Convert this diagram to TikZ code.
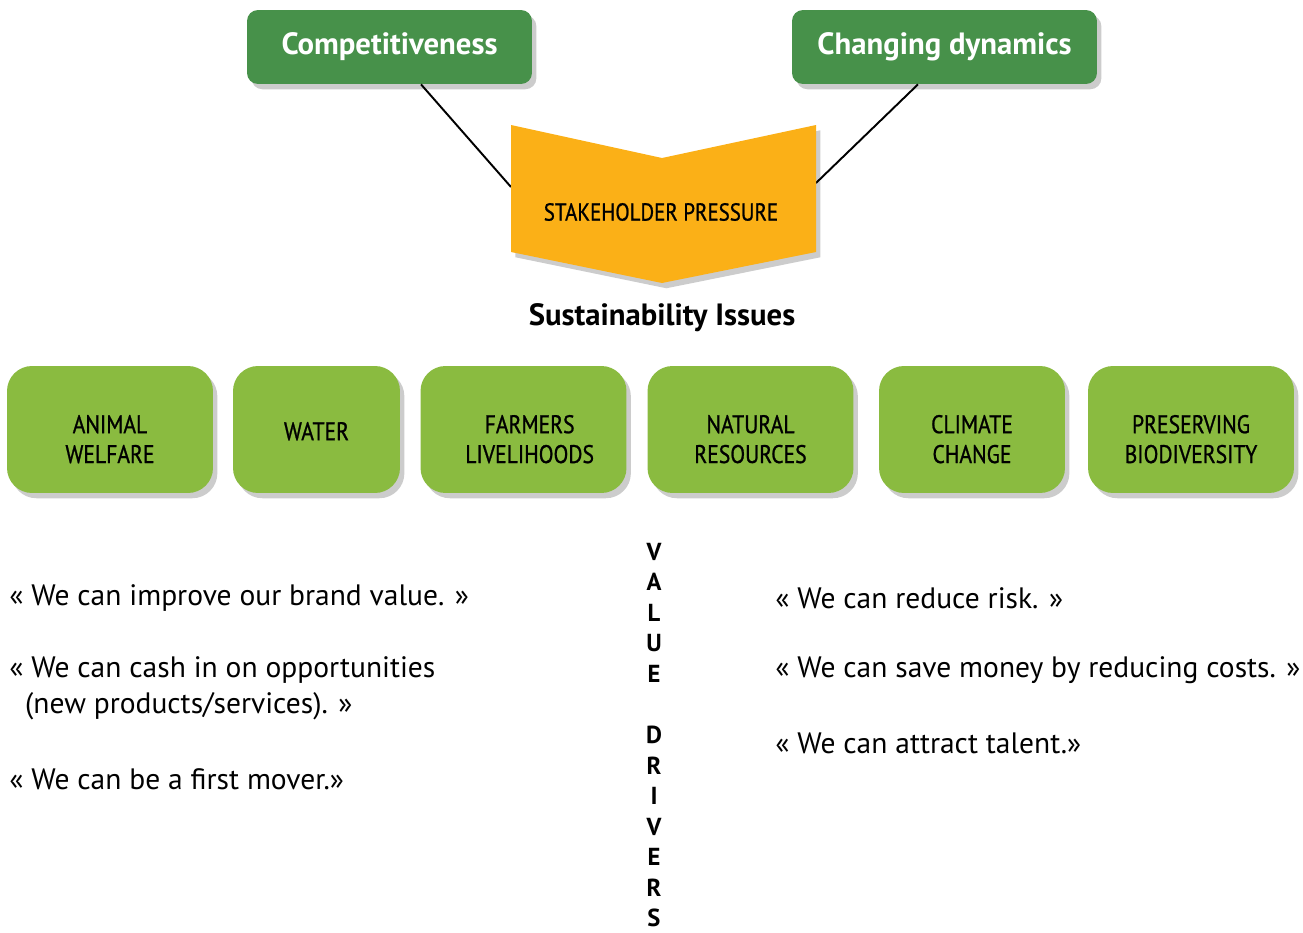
\documentclass[tikz,border=0pt]{standalone}
\usepackage{fontspec}
\setmainfont{PT Sans}
\newfontfamily\condsans{PT Sans}[FakeStretch=0.85, FakeBold=0.9]
\usetikzlibrary{shadows,calc}
\definecolor{pressure}{RGB}{251,176,23}
\definecolor{driver}{RGB}{71,145,74}
\definecolor{issue}{RGB}{138,187,64}
\tikzstyle{boxshadow}=[drop shadow={shadow xshift=2.5pt, shadow yshift=-3pt, opacity=0.2, fill=black}]
\tikzstyle{driverbox}=[fill=driver, rounded corners=0.22cm, minimum height=1.48cm, text=white, font=\bfseries\fontsize{17.5}{20}\selectfont, boxshadow]
\tikzstyle{issuebox}=[fill=issue, rounded corners=0.5cm, minimum height=2.54cm, boxshadow]
\tikzstyle{issuelabel}=[align=center, yshift=-5.5pt, font=\condsans\fontsize{14.5}{17}\selectfont]
\tikzstyle{connector}=[line width=1.1pt]
\tikzstyle{quote}=[anchor=west, inner sep=0pt, align=left, font=\fontsize{16.8}{20.4}\selectfont]

\begin{document}
\begin{tikzpicture}[x=0.02cm, y=-0.02cm]
    \useasboundingbox (0,0) rectangle (1303,933);

    \node[driverbox, minimum width=5.7cm] (comp) at (389.5,47) {Competitiveness};
    \node[driverbox, minimum width=6.1cm] (dyn) at (944.5,47) {Changing dynamics};

    \coordinate (chevL) at (511,187);
    \coordinate (chevR) at (816,183);
    \draw[connector] ($(comp.south)+(31.5,0)$) -- (chevL);
    \draw[connector] ($(dyn.south)+(-26.5,0)$) -- (chevR);

    \fill[pressure, boxshadow] (511,125) -- (662,158) -- (816,125) -- (816,252) -- (662,283) -- (511,252) -- cycle;
    \node[font=\condsans\fontsize{14}{17}\selectfont] (stake) at (661,212) {STAKEHOLDER PRESSURE};

    \node[font=\bfseries\fontsize{17.5}{20}\selectfont] (issues) at (662,318) {Sustainability Issues};

    \node[issuebox, minimum width=4.12cm, label={[issuelabel]center:ANIMAL\\WELFARE}] (animal) at (110,429.5) {};
    \node[issuebox, minimum width=3.34cm, label={[issuelabel, yshift=4.5pt]center:WATER}] (water) at (316.5,429.5) {};
    \node[issuebox, minimum width=4.12cm, label={[issuelabel, xshift=3.5pt]center:FARMERS\\LIVELIHOODS}] (farmers) at (523.5,429.5) {};
    \node[issuebox, minimum width=4.12cm, label={[issuelabel]center:NATURAL\\RESOURCES}] (natural) at (750.5,429.5) {};
    \node[issuebox, minimum width=3.72cm, label={[issuelabel]center:CLIMATE\\CHANGE}] (climate) at (972,429.5) {};
    \node[issuebox, minimum width=4.12cm, label={[issuelabel]center:PRESERVING\\BIODIVERSITY}] (biodiv) at (1191,429.5) {};

    \node[align=center, inner sep=0pt, font=\bfseries\fontsize{14}{17.4}\selectfont] (drivers) at (654,735)
        {V\\A\\L\\U\\E\\[17.4pt]D\\R\\I\\V\\E\\R\\S};

    \node[quote] (brand) at (9,598) {« We can improve our brand value. »};
    \node[quote] (cash) at (9,688) {« We can cash in on opportunities\\\hspace*{9pt}(new products/services). »};
    \node[quote] (mover) at (9,779) {« We can be a first mover.»};

    \node[quote] (risk) at (775,598) {« We can reduce risk. »};
    \node[quote] (costs) at (775,670) {« We can save money by reducing costs. »};
    \node[quote] (talent) at (775,743) {« We can attract talent.»};
\end{tikzpicture}
\end{document}
